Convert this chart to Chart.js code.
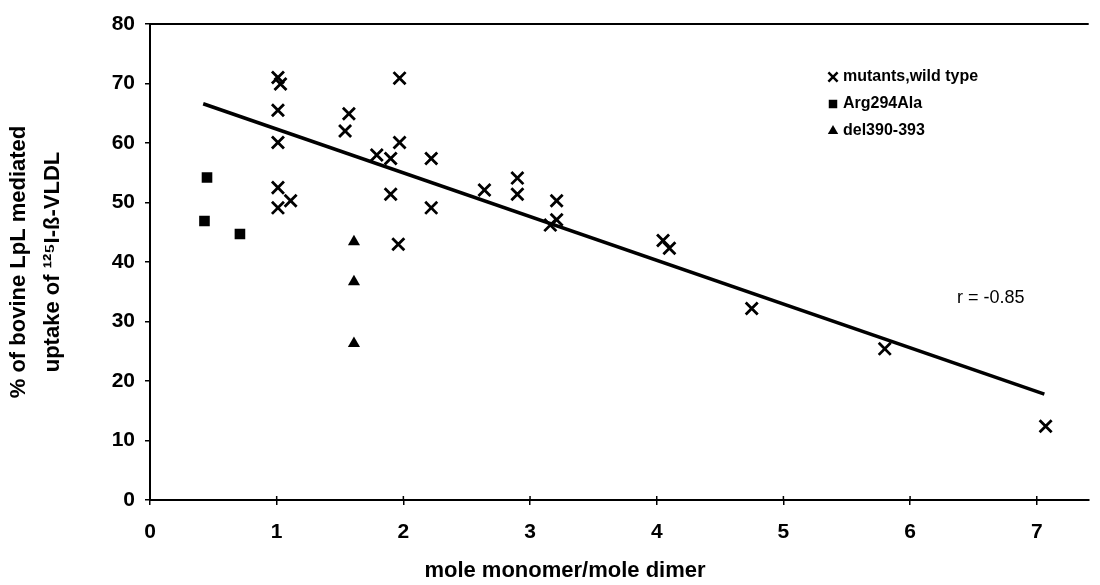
<!DOCTYPE html>
<html>
<head>
<meta charset="utf-8">
<script src="https://cdn.jsdelivr.net/npm/chart.js@4.4.1/dist/chart.umd.min.js"></script>
<style>
  html, body { margin: 0; padding: 0; background: #fff; }
  #wrap { width: 1100px; height: 585px; }
</style>
</head>
<body>
<div id="wrap"><canvas id="myChart" width="1100" height="585"></canvas></div>
<script>
// mutants and wild type (crosses)
const wildX = [1.01, 1.03, 1.01, 1.01, 1.01, 1.01, 1.11, 1.54, 1.57, 1.79, 1.90, 1.90, 1.97, 1.97, 1.96, 2.22, 2.22, 2.64, 2.90, 2.90, 3.16, 3.21, 3.21, 4.05, 4.10, 4.75, 5.80, 7.07];
const wildY = [71.0, 69.9, 65.5, 60.1, 52.5, 49.1, 50.3, 62.0, 64.9, 58.0, 57.4, 51.4, 70.9, 60.1, 43.0, 57.4, 49.1, 52.1, 54.1, 51.4, 46.2, 50.3, 47.1, 43.6, 42.3, 32.2, 25.4, 12.4];
// Arg294Ala (squares)
const argX = [0.43, 0.45, 0.71];
const argY = [46.9, 54.2, 44.7];
// del390-393 (triangles)
const delX = [1.61, 1.61, 1.61];
const delY = [43.4, 36.7, 26.3];
// regression line
const fitX = [0.42, 7.06];
const fitY = [66.6, 17.8];

const xTicks = [0, 1, 2, 3, 4, 5, 6, 7];
const seriesNames = ['mutants,wild type', 'Arg294Ala', 'del390-393'];
const rText = 'r = -0.85';

function toPoints(xs, ys) {
    return xs.map((x, i) => ({ x: x, y: ys[i] }));
}

const FONT = "'Liberation Sans', Arial, Helvetica, sans-serif";

// legend, axis titles, top frame line and r label
const extras = {
    id: 'extras',
    afterDraw(chart) {
        const ctx = chart.ctx;
        const area = chart.chartArea;
        const xScale = chart.scales.x;
        ctx.save();

        // top frame
        ctx.strokeStyle = '#000';
        ctx.lineWidth = 2;
        ctx.beginPath();
        ctx.moveTo(area.left, area.top);
        ctx.lineTo(area.right, area.top);
        ctx.stroke();

        // x ticks cross the axis a little
        ctx.lineWidth = 1.5;
        xTicks.forEach(v => {
            const px = xScale.getPixelForValue(v);
            ctx.beginPath();
            ctx.moveTo(px, area.bottom);
            ctx.lineTo(px, area.bottom - 4);
            ctx.stroke();
        });

        ctx.fillStyle = '#000';

        // y title (two lines, rotated)
        ctx.save();
        ctx.translate(0, (area.top + area.bottom) / 2);
        ctx.rotate(-Math.PI / 2);
        ctx.font = 'bold 22px ' + FONT;
        ctx.textAlign = 'center';
        ctx.textBaseline = 'middle';
        ctx.fillText('% of bovine LpL mediated', 0, 19);
        ctx.fillText('uptake of \u00B9\u00B2\u2075I-\u00DF-VLDL', 0, 53);
        ctx.restore();

        // x title
        ctx.font = 'bold 22px ' + FONT;
        ctx.textAlign = 'center';
        ctx.textBaseline = 'middle';
        ctx.fillText('mole monomer/mole dimer', 565, 571);

        // r label
        ctx.font = '18px ' + FONT;
        ctx.textAlign = 'left';
        ctx.fillText(rText, 957, 298);

        // legend
        ctx.font = 'bold 16px ' + FONT;
        const legendStyles = [
            { pointStyle: 'crossRot', radius: 6.5, borderWidth: 2.5, rotation: 0 },
            { pointStyle: 'rect', radius: 6, borderWidth: 0, rotation: 0 },
            { pointStyle: 'triangle', radius: 6, borderWidth: 0, rotation: 0 }
        ];
        seriesNames.forEach((name, i) => {
            const y = 77 + i * 27;
            ctx.fillStyle = '#000';
            ctx.strokeStyle = '#000';
            ctx.lineWidth = legendStyles[i].borderWidth;
            Chart.helpers.drawPoint(ctx, legendStyles[i], 833, y);
            ctx.fillStyle = '#000';
            ctx.fillText(name, 843, y);
        });

        ctx.restore();
    }
};

const ctx = document.getElementById('myChart').getContext('2d');
const myChart = new Chart(ctx, {
    type: 'scatter',
    data: {
        datasets: [
            {
                label: seriesNames[0],
                data: toPoints(wildX, wildY),
                pointStyle: 'crossRot',
                pointRadius: 8.5,
                pointBorderWidth: 2.8,
                borderColor: '#000',
                backgroundColor: '#000'
            },
            {
                label: seriesNames[1],
                data: toPoints(argX, argY),
                pointStyle: 'rect',
                pointRadius: 7.5,
                pointBorderWidth: 0,
                borderColor: '#000',
                backgroundColor: '#000'
            },
            {
                label: seriesNames[2],
                data: toPoints(delX, delY),
                pointStyle: 'triangle',
                pointRadius: 7,
                pointBorderWidth: 0,
                borderColor: '#000',
                backgroundColor: '#000'
            },
            {
                label: 'fit',
                data: toPoints(fitX, fitY),
                showLine: true,
                pointRadius: 0,
                borderColor: '#000',
                borderWidth: 3.5
            }
        ]
    },
    options: {
        responsive: false,
        animation: false,
        layout: { padding: { top: 24, left: 0, right: 0, bottom: 0 } },
        plugins: {
            legend: { display: false },
            tooltip: { enabled: false }
        },
        scales: {
            x: {
                type: 'linear',
                min: 0,
                max: 7.41,
                afterBuildTicks: (scale) => {
                    scale.ticks = xTicks.map(v => ({ value: v }));
                },
                afterFit: (scale) => { scale.height = 85; },
                ticks: {
                    color: '#000',
                    font: { family: FONT, size: 21, weight: 'bold' },
                    padding: 15,
                    maxRotation: 0
                },
                grid: { drawOnChartArea: false, tickLength: 5, color: '#000', lineWidth: 1.5 },
                border: { color: '#000', width: 2 }
            },
            y: {
                min: 0,
                max: 80,
                ticks: {
                    stepSize: 10,
                    color: '#000',
                    font: { family: FONT, size: 21, weight: 'bold' },
                    padding: 10
                },
                afterFit: (scale) => { scale.width = 150; },
                grid: { drawOnChartArea: false, tickLength: 5, color: '#000', lineWidth: 1.5 },
                border: { color: '#000', width: 2 }
            }
        }
    },
    plugins: [extras]
});
</script>
</body>
</html>
